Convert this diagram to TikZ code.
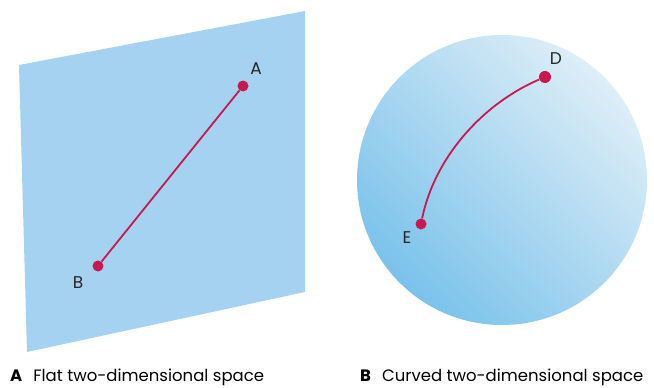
\documentclass[tikz,border=0pt]{standalone}
\usepackage{fontspec}
\setmainfont{Poppins}
\usetikzlibrary{positioning}
\definecolor{planeblue}{RGB}{164,210,240}
\definecolor{ballhi}{RGB}{222,238,247}
\definecolor{balllo}{RGB}{122,194,235}
\definecolor{geod}{RGB}{200,24,80}
\tikzset{
  plane/.style={fill=planeblue,draw=none},
  ball/.style={draw=none,shading=axis,top color=ballhi,bottom color=balllo,shading angle=315},
  geo/.style={draw=geod,line width=1.8pt},
  dot/.style={circle,fill=geod,inner sep=0pt,minimum size=11pt},
  lbl/.style={font=\fontsize{17}{20}\selectfont,text=black!85,inner sep=1pt},
  captext/.style={font=\fontsize{16.5}{19}\selectfont,anchor=base west,inner sep=0pt}
}
\begin{document}
\begin{tikzpicture}[x=1pt,y=-1pt]
\useasboundingbox (0,0) rectangle (654,388);
% flat space
\fill[plane] (19,65) -- (305,11) -- (305,292) -- (27,352) -- cycle;
\node[dot] (a) at (243,86) {};
\node[dot] (b) at (98,266) {};
\draw[geo] (a) -- (b);
\node[lbl] (la) at (256,69) {A};
\node[lbl] (lb) at (78,283) {B};
% curved space
\path[ball] (502,180) circle[radius=145];
\node[dot,minimum width=8pt,minimum height=12pt,rotate=60] (d) at (545,77) {};
\node[dot] (e) at (421,224) {};
\draw[geo] (e) .. controls (434,160) and (480,105) .. (d);
\node[lbl] (ld) at (556,59) {D};
\node[lbl] (le) at (407,238) {E};
% captions
\node[captext] (ca) at (10,381) {\textbf{A}\hspace{11pt}Flat two-dimensional space};
\node[captext] (cb) at (360,381) {\textbf{B}\hspace{11pt}Curved two-dimensional space};
\end{tikzpicture}
\end{document}
